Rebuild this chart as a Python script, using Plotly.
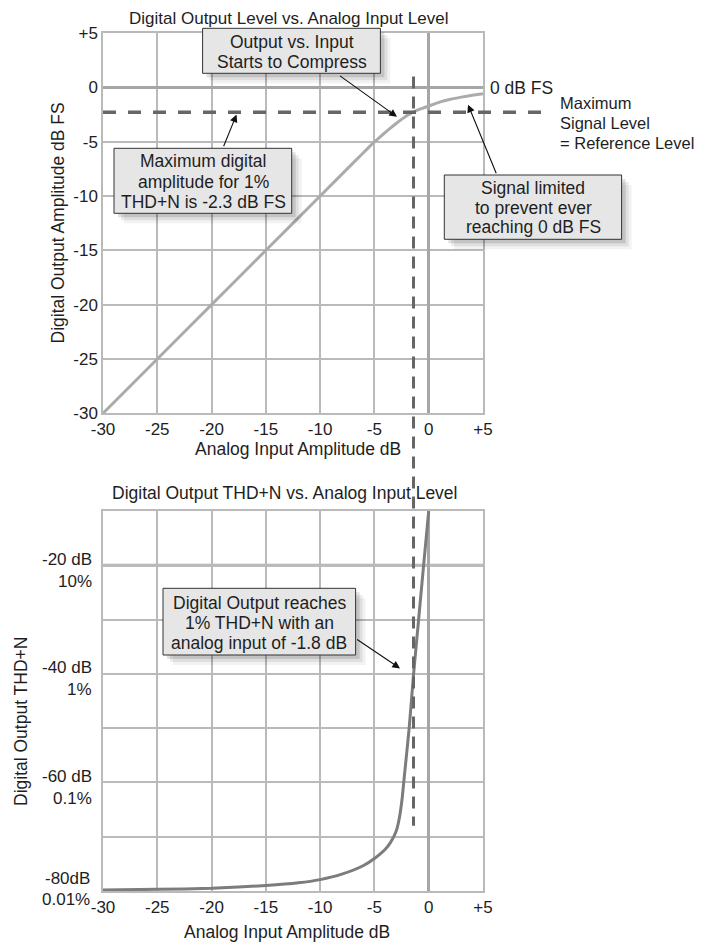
import plotly.graph_objects as go

# ---------------- data ----------------
x_ticks = [-30, -25, -20, -15, -10, -5, 0, 5]
x_tick_labels = ["-30", "-25", "-20", "-15", "-10", "-5", "0", "+5"]
top_y_ticks = [5, 0, -5, -10, -15, -20, -25, -30]
top_y_tick_labels = ["+5", "0", "-5", "-10", "-15", "-20", "-25", "-30"]
thd_y_ticks = [-80, -70, -60, -50, -40, -30, -20, -10]
thd_label_vals = [-80, -60, -40, -20]
thd_label_db = ["-80dB", "-60 dB", "-40 dB", "-20 dB"]
thd_label_pct = ["0.01%", "0.1%", "1%", "10%"]

# Digital output level vs analog input level (dB)
analog_in = [-30, -25, -20, -15, -10, -7, -5.5, -5, -4.5, -4, -3.5, -3, -2.5, -2, -1.4, -1, -0.5, 0, 1, 2, 3, 4, 5]
digital_out = [-30, -25, -20, -15, -10, -7, -5.5, -5.03, -4.58, -4.15, -3.73, -3.33, -2.95, -2.6, -2.27,
               -2.08, -1.9, -1.72, -1.36, -1.1, -0.9, -0.73, -0.58]

# Digital output THD+N vs analog input level (dB)
thd_in = [-30, -25, -20, -15, -12, -10, -8, -6, -5, -4, -3.5, -3, -2.7, -2.45, -2.3, -2.15, -1.8, -1.4, -0.93, -0.47, 0]
thd_db = [-79.8, -79.7, -79.5, -79.0, -78.5, -77.9, -76.9, -75.3, -74.0, -72.3, -71.0, -69.0, -66.5, -63.0,
          -60.0, -57.0, -50.0, -40.2, -30.0, -20.0, -10.0]

max_level_db = -2.3          # horizontal dashed reference level
thd_1pct_input = -1.4        # vertical dashed line (as drawn)
vline_top, vline_bottom = 1.0, -68.0

x_range = [-30, 5]
top_range = [-30, 5]
thd_range = [-80, -10]

# ---------------- layout geometry ----------------
OFF = 8                       # default page body margin
PAGE_W, PAGE_H = 704, 943
W, H = PAGE_W - OFF, PAGE_H - OFF
L, R, T, B = 103 - OFF, 221, 33 - OFF, 52
PW, PH = W - L - R, H - T - B
top_dom = [(PAGE_H - B - 413.3) / PH, 1.0]
bot_dom = [0.0, (PAGE_H - B - 511) / PH]

def fx(p):  # page pixel x -> paper
    return (p - OFF - L) / PW

def fy(p):  # page pixel y -> paper
    return (PAGE_H - B - p) / PH

def top_paper(v):
    return top_dom[0] + (v - top_range[0]) / (top_range[1] - top_range[0]) * (top_dom[1] - top_dom[0])

def thd_paper(v):
    return bot_dom[0] + (v - thd_range[0]) / (thd_range[1] - thd_range[0]) * (bot_dom[1] - bot_dom[0])

FONT = "Liberation Sans, Arial, Helvetica, sans-serif"
TXT = "#1e1e1e"
GRID = "#bababa"
THICK = "#a6a6a6"

fig = go.Figure()
fig.add_trace(go.Scatter(x=analog_in, y=digital_out, xaxis="x", yaxis="y", mode="lines",
                         line=dict(color="#ababab", width=3, shape="spline", smoothing=0.6),
                         hoverinfo="skip", showlegend=False))
fig.add_trace(go.Scatter(x=thd_in, y=thd_db, xaxis="x2", yaxis="y2", mode="lines",
                         line=dict(color="#7c7c7c", width=3, shape="spline", smoothing=0.6),
                         hoverinfo="skip", showlegend=False))

axis_common = dict(showgrid=True, gridcolor=GRID, gridwidth=1.5, showline=True, linecolor=GRID,
                   linewidth=1.5, mirror=True, ticks="", tickfont=dict(family=FONT, size=17, color=TXT))

fig.update_layout(
    width=W, height=H, margin=dict(l=L, r=R, t=T, b=B),
    paper_bgcolor="white", plot_bgcolor="white", showlegend=False,
    xaxis=dict(domain=[0, 1], range=x_range, anchor="y", tickmode="array", tickvals=x_ticks,
               ticktext=x_tick_labels, zeroline=True, zerolinecolor=THICK, zerolinewidth=3, **axis_common),
    yaxis=dict(domain=top_dom, range=top_range, anchor="x", tickmode="array", tickvals=top_y_ticks,
               ticktext=top_y_tick_labels, zeroline=True, zerolinecolor=THICK, zerolinewidth=3, **axis_common),
    xaxis2=dict(domain=[0, 1], range=x_range, anchor="y2", tickmode="array", tickvals=x_ticks,
                ticktext=x_tick_labels, zeroline=True, zerolinecolor=THICK, zerolinewidth=3, **axis_common),
    yaxis2=dict(domain=bot_dom, range=thd_range, anchor="x2", tickmode="array", tickvals=thd_y_ticks,
                showticklabels=False, zeroline=False, **axis_common),
)

shapes = []
# -20 dB emphasised line
shapes.append(dict(type="line", xref="x2", yref="y2", x0=x_range[0], x1=x_range[1], y0=-20, y1=-20,
                   line=dict(color=THICK, width=3), layer="below"))
# horizontal dashed max level line (extends past the plot)
shapes.append(dict(type="line", xref="paper", yref="y", x0=0, x1=fx(547), y0=max_level_db, y1=max_level_db,
                   line=dict(color="#666666", width=3.5, dash="13px,12px")))
# vertical dashed 1% THD+N line spanning both charts
shapes.append(dict(type="line", xref="x", yref="paper", x0=thd_1pct_input, x1=thd_1pct_input,
                   y0=top_paper(vline_top), y1=thd_paper(vline_bottom),
                   line=dict(color="#666666", width=3, dash="12px,8px")))

boxes = [
    (202.6, 28.3, 380.4, 73.3),
    (114.0, 148.3, 291.7, 213.3),
    (444.3, 175.0, 621.6, 239.3),
    (163.0, 588.3, 355.6, 655.0),
]
for (x0, y0, x1, y1) in boxes:
    for off, alpha in ((10, 0.05), (7, 0.08), (4, 0.12)):
        shapes.append(dict(type="rect", xref="paper", yref="paper", x0=fx(x0 + off), x1=fx(x1 + off),
                           y0=fy(y1 + off), y1=fy(y0 + off), line=dict(width=0),
                           fillcolor=f"rgba(0,0,0,{alpha})"))
    shapes.append(dict(type="rect", xref="paper", yref="paper", x0=fx(x0), x1=fx(x1), y0=fy(y1), y1=fy(y0),
                       line=dict(color="#333333", width=1), fillcolor="#e6e6e6"))
fig.update_layout(shapes=shapes)

ann = []

def text(px, py, s, size=17.5, xanchor="center", angle=0):
    ann.append(dict(xref="paper", yref="paper", x=fx(px), y=fy(py), text=s, showarrow=False,
                    xanchor=xanchor, yanchor="middle", textangle=angle,
                    font=dict(family=FONT, size=size, color=TXT)))

# titles
text(288.6, 19, "Digital Output Level vs. Analog Input Level", size=17)
text(285, 493.3, "Digital Output THD+N vs. Analog Input Level")
text(297.5, 449, "Analog Input Amplitude dB")
text(286.5, 932, "Analog Input Amplitude dB")
text(58, 223.5, "Digital Output Amplitude dB FS", angle=-90)
text(21, 722, "Digital Output THD+N", angle=-90)

# THD+N axis labels (two-line: dB above the grid line, percent below)
for v, db, pct in zip(thd_label_vals, thd_label_db, thd_label_pct):
    if v == thd_range[0]:
        shifts, xr = (13, -8), 92      # squeezed beside the x tick label
    else:
        shifts, xr = (6, -16), 94
    for s, shift in zip((db, pct), shifts):
        ann.append(dict(xref="paper", yref="y2", x=fx(xr), y=v, yshift=shift, text=s, showarrow=False,
                        xanchor="right", yanchor="middle",
                        font=dict(family=FONT, size=17, color=TXT)))

# box texts
for py, s in ((41.7, "Output vs. Input"), (61.7, "Starts to Compress")):
    text(291.5, py, s)
for py, s in ((161.5, "Maximum digital"), (181.5, "amplitude for 1%"), (201.5, "THD+N is -2.3 dB FS")):
    text(203, py, s)
for py, s in ((188.3, "Signal limited"), (208.3, "to prevent ever"), (227.3, "reaching 0 dB FS")):
    text(533, py, s)
for py, s in ((602.7, "Digital Output reaches"), (622.7, "1% THD+N with an"), (642.7, "analog input of -1.8 dB")):
    text(259.3, py, s)

# side labels
text(488, 87.6, "0 dB FS", xanchor="left")
for py, s in ((103.3, "Maximum"), (123.3, "Signal Level"), (143.3, "= Reference Level")):
    text(558, py, s, size=16.5, xanchor="left")

# arrows
def arrow(xref, yref, x, y, ax, ay):
    ann.append(dict(xref=xref, yref=yref, x=x, y=y, ax=ax, ay=ay, axref="pixel", ayref="pixel",
                    text="", showarrow=True, arrowhead=2, arrowsize=1.4, arrowwidth=1.1,
                    arrowcolor="#111111"))

arrow("x", "y", -2.92, -2.71, -58.5, -42)
arrow("x", "y", -17.7, -2.5, -13.5, 33.3)
arrow("x", "y", 3.62, -1.6, 28.8, 70)
arrow("x2", "y2", -2.64, -39.0, -44.4, -30)

fig.update_layout(annotations=ann)
fig.write_html("out.html")
